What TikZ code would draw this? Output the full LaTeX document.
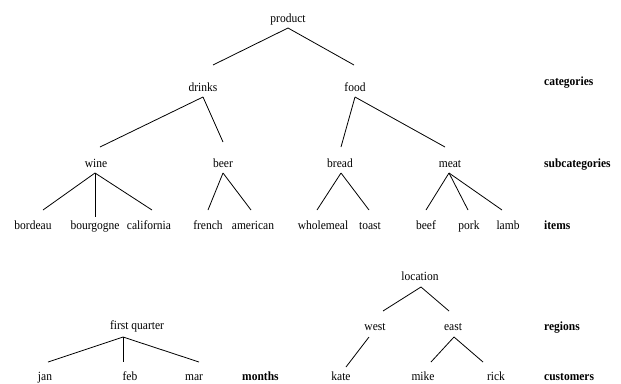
\documentclass[tikz,border=0pt]{standalone}
\usepackage{fontspec}
\setmainfont[FakeStretch=0.92]{Liberation Serif}
\begin{document}
\begin{tikzpicture}[x=1pt,y=-1pt,
  lbl/.style={anchor=base,inner sep=0pt,font=\fontsize{12.5}{14}\selectfont},
  lvl/.style={anchor=base west,inner sep=0pt,font=\fontsize{12.5}{14}\selectfont\bfseries},
  edge/.style={draw=black,line width=0.8pt}]
\useasboundingbox (0,0) rectangle (621,383);
% labels
\node[lbl] (product) at (288,22) {product};
\node[lbl] (drinks) at (203,91) {drinks};
\node[lbl] (food) at (355,91) {food};
\node[lbl] (wine) at (96,167) {wine};
\node[lbl] (beer) at (223,167) {beer};
\node[lbl] (bread) at (340,167) {bread};
\node[lbl] (meat) at (450,167) {meat};
\node[lbl] (bordeau) at (33,229) {bordeau};
\node[lbl] (bourgogne) at (95,229) {bourgogne};
\node[lbl] (california) at (149,229) {california};
\node[lbl] (french) at (208,229) {french};
\node[lbl] (american) at (253,229) {american};
\node[lbl] (wholemeal) at (323,229) {wholemeal};
\node[lbl] (toast) at (370,229) {toast};
\node[lbl] (beef) at (426,229) {beef};
\node[lbl] (pork) at (469,229) {pork};
\node[lbl] (lamb) at (508,229) {lamb};
\node[lvl] (categories) at (544,85) {categories};
\node[lvl] (subcategories) at (544,167) {subcategories};
\node[lvl] (items) at (544,229) {items};
\node[lbl] (location) at (420,280) {location};
\node[lbl] (west) at (375,330) {west};
\node[lbl] (east) at (453,330) {east};
\node[lbl] (kate) at (341,380) {kate};
\node[lbl] (mike) at (423,380) {mike};
\node[lbl] (rick) at (496,380) {rick};
\node[lvl] (regions) at (544,330) {regions};
\node[lvl] (customers) at (544,380) {customers};
\node[lbl] (fq) at (137,329) {first quarter};
\node[lbl] (jan) at (45,380) {jan};
\node[lbl] (feb) at (130,380) {feb};
\node[lbl] (mar) at (194,380) {mar};
\node[lvl] (months) at (242,380) {months};
% connector end points
\coordinate (productB) at (288,28);
\coordinate (drinksT) at (213,65);
\coordinate (foodT) at (354,65);
\coordinate (drinksB) at (203,97);
\coordinate (wineT) at (100,147);
\coordinate (beerT) at (223,142);
\coordinate (foodB) at (355,97);
\coordinate (breadT) at (341,147);
\coordinate (meatT) at (445,147);
\coordinate (wineB) at (95,173);
\coordinate (bordeauT) at (43,210);
\coordinate (bourgogneT) at (95,217);
\coordinate (californiaT) at (152,210);
\coordinate (beerB) at (223,173);
\coordinate (frenchT) at (208,210);
\coordinate (americanT) at (251,210);
\coordinate (breadB) at (341,173);
\coordinate (wholemealT) at (317,210);
\coordinate (toastT) at (369,210);
\coordinate (meatB) at (449,173);
\coordinate (beefT) at (426,210);
\coordinate (porkT) at (468,210);
\coordinate (lambT) at (502,210);
\coordinate (locationB) at (421,287);
\coordinate (westT) at (383,311);
\coordinate (eastT) at (449,311);
\coordinate (westB) at (369,337);
\coordinate (kateT) at (346,367);
\coordinate (eastB) at (454,337);
\coordinate (mikeT) at (431,362);
\coordinate (rickT) at (483,362);
\coordinate (fqB) at (123,337);
\coordinate (janT) at (48,362);
\coordinate (febT) at (123,362);
\coordinate (marT) at (199,362);
% connectors
\draw[edge] (productB) -- (drinksT);
\draw[edge] (productB) -- (foodT);
\draw[edge] (drinksB) -- (wineT);
\draw[edge] (drinksB) -- (beerT);
\draw[edge] (foodB) -- (breadT);
\draw[edge] (foodB) -- (meatT);
\draw[edge] (wineB) -- (bordeauT);
\draw[edge] (wineB) -- (bourgogneT);
\draw[edge] (wineB) -- (californiaT);
\draw[edge] (beerB) -- (frenchT);
\draw[edge] (beerB) -- (americanT);
\draw[edge] (breadB) -- (wholemealT);
\draw[edge] (breadB) -- (toastT);
\draw[edge] (meatB) -- (beefT);
\draw[edge] (meatB) -- (porkT);
\draw[edge] (meatB) -- (lambT);
\draw[edge] (locationB) -- (westT);
\draw[edge] (locationB) -- (eastT);
\draw[edge] (westB) -- (kateT);
\draw[edge] (eastB) -- (mikeT);
\draw[edge] (eastB) -- (rickT);
\draw[edge] (fqB) -- (janT);
\draw[edge] (fqB) -- (febT);
\draw[edge] (fqB) -- (marT);
\end{tikzpicture}
\end{document}
